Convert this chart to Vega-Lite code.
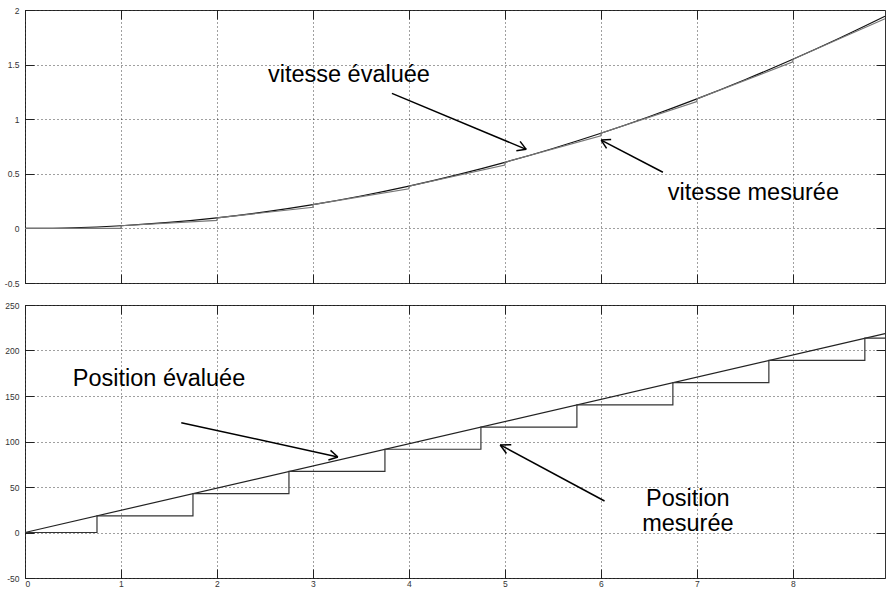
{
  "$schema": "https://vega.github.io/schema/vega-lite/v6.json",
  "background": "white",
  "padding": {"left": 3, "top": 5, "right": 0, "bottom": 0},
  "spacing": 12,
  "config": {
    "view": {"stroke": "#333", "strokeWidth": 1},
    "axis": {
      "labelFont": "Liberation Sans",
      "labelFontSize": 8.5,
      "labelColor": "#333",
      "gridColor": "#000",
      "gridDash": [1, 3],
      "gridOpacity": 0.75,
      "gridWidth": 1,
      "tickColor": "#222",
      "tickWidth": 1
    },
    "text": {"font": "Liberation Sans", "fontSize": 23.5, "color": "#000"}
  },
  "datasets": {
    "vel_eval": [
      {"t": 0, "v": 0}, {"t": 0.5, "v": 0.006}, {"t": 1, "v": 0.0242}, {"t": 1.5, "v": 0.0545},
      {"t": 2, "v": 0.0968}, {"t": 2.5, "v": 0.1513}, {"t": 3, "v": 0.2178}, {"t": 3.5, "v": 0.2965},
      {"t": 4, "v": 0.3872}, {"t": 4.5, "v": 0.4901}, {"t": 5, "v": 0.605}, {"t": 5.5, "v": 0.7321},
      {"t": 6, "v": 0.8712}, {"t": 6.5, "v": 1.0225}, {"t": 7, "v": 1.1858}, {"t": 7.5, "v": 1.3613},
      {"t": 8, "v": 1.5488}, {"t": 8.5, "v": 1.7485}, {"t": 8.96, "v": 1.9428}
    ],
    "vel_meas": [
      {"i": 0, "t": 0, "v": 0}, {"i": 1, "t": 1, "v": 0},
      {"i": 2, "t": 1, "v": 0.0242}, {"i": 3, "t": 2, "v": 0.0726},
      {"i": 4, "t": 2, "v": 0.0968}, {"i": 5, "t": 3, "v": 0.1936},
      {"i": 6, "t": 3, "v": 0.2178}, {"i": 7, "t": 4, "v": 0.363},
      {"i": 8, "t": 4, "v": 0.3872}, {"i": 9, "t": 5, "v": 0.5808},
      {"i": 10, "t": 5, "v": 0.605}, {"i": 11, "t": 6, "v": 0.847},
      {"i": 12, "t": 6, "v": 0.8712}, {"i": 13, "t": 7, "v": 1.1616},
      {"i": 14, "t": 7, "v": 1.1858}, {"i": 15, "t": 8, "v": 1.5246},
      {"i": 16, "t": 8, "v": 1.5488}, {"i": 17, "t": 8.96, "v": 1.9205}
    ],
    "pos_eval": [{"t": 0, "p": 0}, {"t": 8.96, "p": 218.6}],
    "pos_meas": [
      {"t": 0, "p": 0}, {"t": 0.75, "p": 18.3}, {"t": 1.75, "p": 42.7}, {"t": 2.75, "p": 67.1},
      {"t": 3.75, "p": 91.5}, {"t": 4.75, "p": 115.9}, {"t": 5.75, "p": 140.3}, {"t": 6.75, "p": 164.7},
      {"t": 7.75, "p": 189.1}, {"t": 8.75, "p": 213.5}, {"t": 8.96, "p": 213.5}
    ],
    "arrows_top": [
      {"x": 3.823, "y": 1.237, "x2": 5.222, "y2": 0.724},
      {"x": 5.222, "y": 0.724, "x2": 5.158, "y2": 0.797},
      {"x": 5.222, "y": 0.724, "x2": 5.119, "y2": 0.712},
      {"x": 6.646, "y": 0.514, "x2": 6.003, "y2": 0.809},
      {"x": 6.003, "y": 0.809, "x2": 6.059, "y2": 0.732},
      {"x": 6.003, "y": 0.809, "x2": 6.107, "y2": 0.813}
    ],
    "arrows_bottom": [
      {"x": 1.628, "y": 120.7, "x2": 3.26, "y2": 83.0},
      {"x": 3.26, "y": 83.0, "x2": 3.183, "y2": 90.3},
      {"x": 3.26, "y": 83.0, "x2": 3.161, "y2": 79.7},
      {"x": 6.038, "y": 34.6, "x2": 4.951, "y2": 96.2},
      {"x": 4.951, "y": 96.2, "x2": 5.016, "y2": 86.8},
      {"x": 4.951, "y": 96.2, "x2": 5.066, "y2": 96.5}
    ],
    "labels_top": [
      {"x": 3.375, "y": 1.337, "label": "vitesse évaluée"},
      {"x": 7.589, "y": 0.256, "label": "vitesse mesurée"}
    ],
    "labels_bottom": [
      {"x": 1.396, "y": 161.0, "label": "Position évaluée"},
      {"x": 6.906, "y": 29.1, "label": "Position"},
      {"x": 6.906, "y": 1.6, "label": "mesurée"}
    ]
  },
  "vconcat": [
    {
      "width": 860,
      "height": 273,
      "layer": [
        {
          "data": {"name": "vel_eval"},
          "mark": {"type": "line", "color": "#111", "strokeWidth": 1.2, "interpolate": "monotone"},
          "encoding": {
            "x": {"field": "t", "type": "quantitative",
              "scale": {"domain": [0, 8.96], "nice": false, "zero": false},
              "axis": {"orient": "bottom", "values": [0, 1, 2, 3, 4, 5, 6, 7, 8], "labels": false, "title": null, "grid": true, "domain": false, "tickSize": -9}},
            "y": {"field": "v", "type": "quantitative",
              "scale": {"domain": [-0.5, 2], "nice": false, "zero": false},
              "axis": {"orient": "left", "values": [-0.5, 0, 0.5, 1, 1.5, 2], "title": null, "grid": true, "domain": false, "tickSize": -9, "labelPadding": 15, "labelExpr": "'' + datum.value"}}
          }
        },
        {
          "data": {"name": "vel_meas"},
          "mark": {"type": "line", "color": "#777", "strokeWidth": 1.2},
          "encoding": {
            "x": {"field": "t", "type": "quantitative",
              "axis": {"orient": "top", "values": [0, 1, 2, 3, 4, 5, 6, 7, 8], "labels": false, "title": null, "grid": false, "domain": false, "tickSize": -9}},
            "y": {"field": "v", "type": "quantitative",
              "axis": {"orient": "right", "values": [-0.5, 0, 0.5, 1, 1.5, 2], "labels": false, "title": null, "grid": false, "domain": false, "tickSize": -9}},
            "order": {"field": "i", "type": "quantitative"}
          }
        },
        {
          "data": {"name": "arrows_top"},
          "mark": {"type": "rule", "color": "#000", "strokeWidth": 1.5},
          "encoding": {
            "x": {"field": "x", "type": "quantitative", "axis": null},
            "y": {"field": "y", "type": "quantitative", "axis": null},
            "x2": {"field": "x2"},
            "y2": {"field": "y2"}
          }
        },
        {
          "data": {"name": "labels_top"},
          "mark": {"type": "text", "align": "center", "baseline": "alphabetic"},
          "encoding": {
            "x": {"field": "x", "type": "quantitative", "axis": null},
            "y": {"field": "y", "type": "quantitative", "axis": null},
            "text": {"field": "label"}
          }
        }
      ]
    },
    {
      "width": 860,
      "height": 273,
      "layer": [
        {
          "data": {"name": "pos_eval"},
          "mark": {"type": "line", "color": "#222", "strokeWidth": 1.2},
          "encoding": {
            "x": {"field": "t", "type": "quantitative",
              "scale": {"domain": [0, 8.96], "nice": false, "zero": false},
              "axis": {"orient": "bottom", "values": [0, 1, 2, 3, 4, 5, 6, 7, 8], "title": null, "grid": true, "domain": false, "tickSize": -9, "labelPadding": 10, "labelExpr": "'' + datum.value"}},
            "y": {"field": "p", "type": "quantitative",
              "scale": {"domain": [-50, 250], "nice": false, "zero": false},
              "axis": {"orient": "left", "values": [-50, 0, 50, 100, 150, 200, 250], "title": null, "grid": true, "domain": false, "tickSize": -9, "labelPadding": 15, "labelExpr": "'' + datum.value"}}
          }
        },
        {
          "data": {"name": "pos_meas"},
          "mark": {"type": "line", "color": "#333", "strokeWidth": 1.2, "interpolate": "step-after"},
          "encoding": {
            "x": {"field": "t", "type": "quantitative",
              "axis": {"orient": "top", "values": [0, 1, 2, 3, 4, 5, 6, 7, 8], "labels": false, "title": null, "grid": false, "domain": false, "tickSize": -9}},
            "y": {"field": "p", "type": "quantitative",
              "axis": {"orient": "right", "values": [-50, 0, 50, 100, 150, 200, 250], "labels": false, "title": null, "grid": false, "domain": false, "tickSize": -9}}
          }
        },
        {
          "data": {"name": "arrows_bottom"},
          "mark": {"type": "rule", "color": "#000", "strokeWidth": 1.5},
          "encoding": {
            "x": {"field": "x", "type": "quantitative", "axis": null},
            "y": {"field": "y", "type": "quantitative", "axis": null},
            "x2": {"field": "x2"},
            "y2": {"field": "y2"}
          }
        },
        {
          "data": {"name": "labels_bottom"},
          "mark": {"type": "text", "align": "center", "baseline": "alphabetic"},
          "encoding": {
            "x": {"field": "x", "type": "quantitative", "axis": null},
            "y": {"field": "y", "type": "quantitative", "axis": null},
            "text": {"field": "label"}
          }
        }
      ]
    }
  ]
}
